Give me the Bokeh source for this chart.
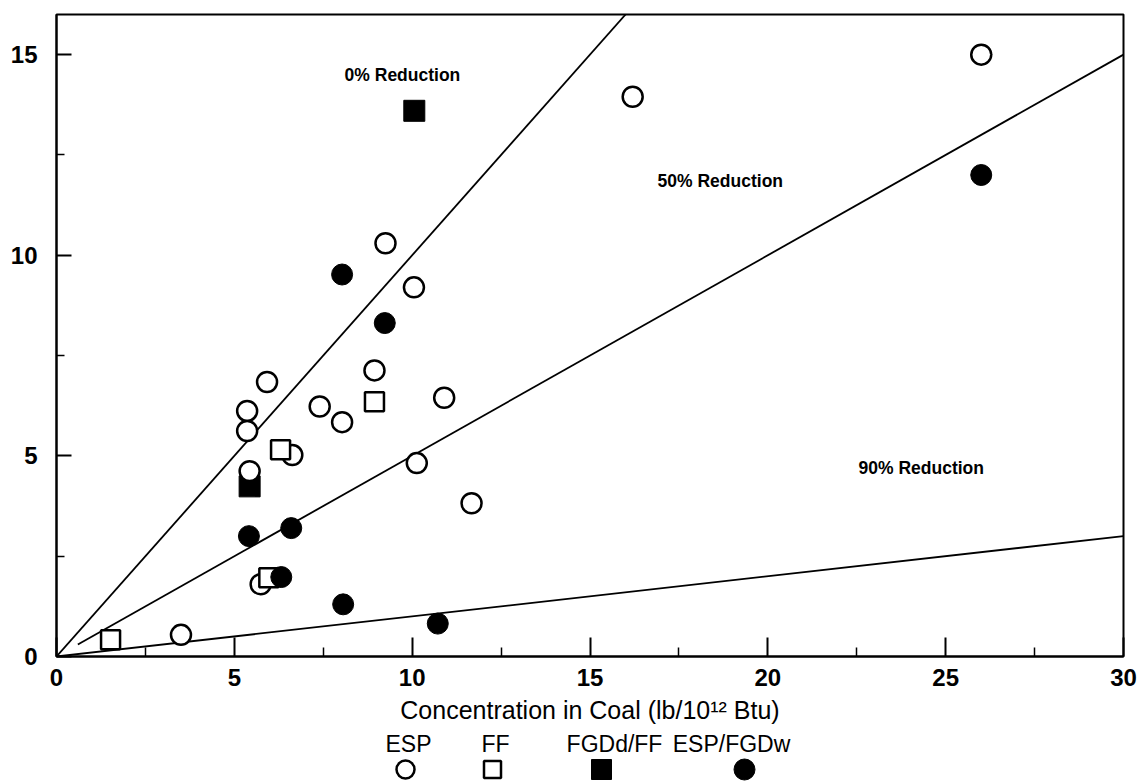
from bokeh.plotting import figure
from bokeh.models import Range1d, FixedTicker, ColumnDataSource
from bokeh.layouts import column
from bokeh.core.properties import value
from bokeh.embed import file_html
from bokeh.resources import INLINE

# ---------------- data ----------------
esp_x = [26.0, 16.2, 9.25, 10.05, 5.92, 5.36, 5.36, 8.94, 7.4, 8.03, 10.9, 6.63, 5.43, 10.13, 11.67, 5.74, 3.5]
esp_y = [15.0, 13.95, 10.3, 9.2, 6.84, 6.12, 5.62, 7.13, 6.23, 5.84, 6.45, 5.02, 4.62, 4.82, 3.82, 1.8, 0.54]

ff_x = [8.94, 6.3, 5.97, 1.52]
ff_y = [6.35, 5.15, 1.96, 0.42]

fgdd_x = [10.06, 5.43]
fgdd_y = [13.6, 4.24]

espw_x = [26.0, 8.03, 9.23, 5.41, 6.6, 6.32, 8.06, 10.72]
espw_y = [12.0, 9.52, 8.31, 3.0, 3.2, 1.98, 1.3, 0.82]

reductions = [0.0, 0.5, 0.9]
reduction_labels = ["0% Reduction", "50% Reduction", "90% Reduction"]
line_x_start = [0.0, 0.6, 0.0]
line_x_end = [16.0, 30.0, 30.0]
label_x = [8.1, 16.9, 22.55]
label_y = [14.5, 11.85, 4.69]

x_ticks = [0, 5, 10, 15, 20, 25, 30]
y_ticks = [0, 5, 10, 15]
x_title = "Concentration in Coal (lb/10\u00b9\u00b2 Btu)"

legend_labels = ["ESP", "FF", "FGDd/FF", "ESP/FGDw"]

FONT = "Liberation Sans"

# ---------------- main plot ----------------
W, H_MAIN, H_LEG = 1138, 729, 52
BL, BR = 56, 15
p = figure(width=W, height=H_MAIN, x_range=Range1d(0, 30), y_range=Range1d(0, 16),
           output_backend="svg", toolbar_location=None,
           min_border_left=BL, min_border_right=BR, min_border_top=14, min_border_bottom=H_MAIN - 656)
p.xgrid.visible = False
p.ygrid.visible = False
p.outline_line_color = "black"
p.outline_line_width = 2
p.background_fill_color = "white"
p.border_fill_color = "white"

for ax in (p.xaxis[0], p.yaxis[0]):
    ax.axis_line_width = 2
    ax.axis_line_color = "black"
    ax.major_tick_out = 0
    ax.minor_tick_out = 0
    ax.major_tick_line_width = 2
    ax.minor_tick_line_width = 1.5
    ax.major_label_text_font = FONT
    ax.major_label_text_font_size = "24px"
    ax.major_label_text_font_style = "bold"
    ax.major_label_text_color = "black"

p.xaxis.ticker = FixedTicker(ticks=x_ticks, minor_ticks=[2.5, 7.5, 12.5, 17.5, 22.5, 27.5])
p.yaxis.ticker = FixedTicker(ticks=y_ticks, minor_ticks=[2.5, 7.5, 12.5])
p.xaxis.major_tick_in = 19
p.xaxis.minor_tick_in = 9
p.yaxis.major_tick_in = 15
p.yaxis.minor_tick_in = 8
p.xaxis.major_label_standoff = 12
p.yaxis.major_label_standoff = 19

p.xaxis.axis_label = x_title
p.xaxis.axis_label_text_font = FONT
p.xaxis.axis_label_text_font_size = "25px"
p.xaxis.axis_label_text_font_style = "normal"
p.xaxis.axis_label_text_color = "black"
p.xaxis.axis_label_standoff = 7

# reduction lines
for r, x0, x1 in zip(reductions, line_x_start, line_x_end):
    p.line([x0, x1], [(1 - r) * x0, (1 - r) * x1], line_color="black", line_width=1.8)

p.text(x=label_x, y=label_y, text=reduction_labels, text_font=value(FONT),
       text_font_size="17.5px", text_font_style="bold", text_align="left",
       text_baseline="middle", text_color="black")

# markers
p.scatter(fgdd_x, fgdd_y, marker="square", size=21, fill_color="black", line_color="black")
p.scatter(esp_x, esp_y, marker="circle", size=20, fill_color="white", line_color="black", line_width=2.5)
p.scatter(ff_x, ff_y, marker="square", size=19, fill_color="white", line_color="black", line_width=2.5)
p.scatter(espw_x, espw_y, marker="circle", size=21, fill_color="black", line_color="black")

# ---------------- legend strip (coordinates = page pixels) ----------------
leg = figure(width=W, height=H_LEG, x_range=Range1d(BL, W - BR), y_range=Range1d(H_MAIN + H_LEG, H_MAIN),
             output_backend="svg", toolbar_location=None,
             min_border_left=BL, min_border_right=BR, min_border_top=0, min_border_bottom=0)
leg.axis.visible = False
leg.xgrid.visible = False
leg.ygrid.visible = False
leg.outline_line_color = None
leg.background_fill_color = "white"
leg.border_fill_color = "white"

leg_text_x = [408, 495, 614, 731]
leg_mark_x = [405, 492, 601, 744]
leg_src = ColumnDataSource(dict(x=leg_text_x, y=[743] * 4, t=legend_labels))
leg.text(x="x", y="y", text="t", source=leg_src, text_font=value(FONT), text_font_size="23px",
         text_align="center", text_baseline="middle", text_color="black")
leg.scatter([leg_mark_x[0]], [769], marker="circle", size=18, fill_color="white", line_color="black", line_width=2.5)
leg.scatter([leg_mark_x[1]], [769], marker="square", size=17, fill_color="white", line_color="black", line_width=2.5)
leg.scatter([leg_mark_x[2]], [769], marker="square", size=20, fill_color="black", line_color="black")
leg.scatter([leg_mark_x[3]], [769], marker="circle", size=21, fill_color="black", line_color="black")

layout = column(p, leg, spacing=0)
open("out.html", "w").write(file_html(layout, INLINE))
